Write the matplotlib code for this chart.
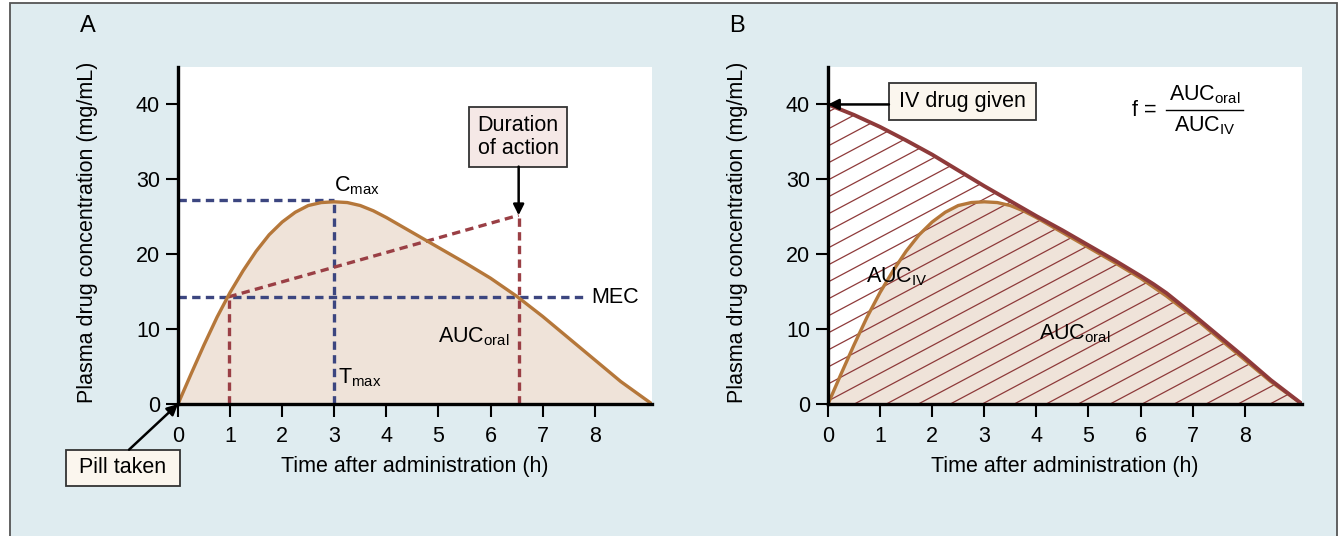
import numpy as np
import matplotlib
matplotlib.use("Agg")
import matplotlib.pyplot as plt
from matplotlib.patches import Rectangle, Polygon
from matplotlib.collections import LineCollection

plt.rcParams['font.family'] = ['Liberation Sans', 'DejaVu Sans']
plt.rcParams['mathtext.fontset'] = 'custom'
plt.rcParams['mathtext.rm'] = 'Liberation Sans'
plt.rcParams['mathtext.it'] = 'Liberation Sans:italic'

# ---------------- data ----------------
t_oral = [0, 0.25, 0.5, 0.75, 1.0, 1.25, 1.5, 1.75, 2.0, 2.25, 2.5, 2.75, 3.0,
          3.25, 3.5, 3.75, 4.0, 4.25, 4.5, 5.0, 5.5, 6.0, 6.5, 7.0, 7.5, 8.0, 8.5, 9.1]
c_oral = [0, 4.0, 7.9, 11.6, 14.9, 17.8, 20.4, 22.6, 24.3, 25.6, 26.5, 26.9, 27.0,
          26.9, 26.5, 25.8, 24.9, 23.9, 22.9, 20.9, 18.9, 16.8, 14.4, 11.7, 8.8, 5.9, 3.0, 0]

t_iv = [0, 0.5, 1.0, 1.5, 2.0, 2.5, 3.0, 3.5, 4.0, 4.5, 5.0, 5.5, 6.0, 6.25, 6.5,
        6.75, 7.0, 7.5, 8.0, 8.5, 9.1]
c_iv = [40.0, 38.6, 37.0, 35.2, 33.3, 31.2, 29.1, 27.1, 25.1, 23.2, 21.2, 19.2,
        17.1, 16.0, 14.8, 13.4, 12.0, 9.1, 6.2, 3.2, 0]

cmax = 27.2
tmax = 3.0
mec = 14.3
t_onset = 0.97
t_offset = 6.54
duration_top = 25.2
iv_dose_conc = 40.0

x_ticks = [0, 1, 2, 3, 4, 5, 6, 7, 8]
y_ticks = [0, 10, 20, 30, 40]
x_label = "Time after administration (h)"
y_label = "Plasma drug concentration (mg/mL)"

# ---------------- styling ----------------
BG = '#dfecf0'
FILL = '#efe3d9'
ORAL = '#b5773a'
IVC = '#8e3a3a'
NAVY = '#3c4680'
DRED = '#9a3f45'
FS = 15.5

fig = plt.figure(figsize=(13.39, 5.36), dpi=100)
fig.patch.set_facecolor('white')
fig.patches.append(Rectangle((10 / 1339, -0.05), 1327 / 1339, 1.05 - 3 / 536,
                             transform=fig.transFigure, facecolor=BG,
                             edgecolor='#555555', linewidth=1.3, zorder=-10))

W, H = 1339, 536
def axpos(x0):
    return [x0 / W, 1 - 404 / H, 474 / W, 337 / H]

axA = fig.add_axes(axpos(178))
axB = fig.add_axes(axpos(828))

for ax in (axA, axB):
    ax.set_facecolor('white')
    ax.set_xlim(0, 9.1)
    ax.set_ylim(0, 45)
    ax.spines['top'].set_visible(False)
    ax.spines['right'].set_visible(False)
    ax.spines['left'].set_linewidth(2.4)
    ax.spines['bottom'].set_linewidth(2.4)
    ax.set_xticks(x_ticks)
    ax.set_yticks(y_ticks)
    ax.tick_params(axis='both', direction='out', length=9, width=1.5,
                   labelsize=FS, colors='black')
    ax.tick_params(axis='x', pad=7)
    ax.tick_params(axis='y', pad=4)
    ax.set_xlabel(x_label, fontsize=FS)
    ax.set_ylabel(y_label, fontsize=FS)
    ax.xaxis.set_label_coords(0.5, -0.155)
    ax.yaxis.set_label_coords(-0.168, 0.51)
    for sp in ax.spines.values():
        sp.set_zorder(6)

arrow_kw = dict(arrowstyle='-|>', color='black', lw=1.8, mutation_scale=16,
                shrinkA=0, shrinkB=0)

def box(ax, x0, y0, x1, y1, fc):
    ax.add_patch(Rectangle((x0, y0), x1 - x0, y1 - y0, facecolor=fc,
                           edgecolor='#333333', lw=1.3, zorder=8, clip_on=False))

# ---------------- Panel A ----------------
axA.fill_between(t_oral, c_oral, 0, color=FILL, lw=0, zorder=1)
axA.plot(t_oral, c_oral, color=ORAL, lw=2.4, zorder=4, solid_joinstyle='round')

dash = dict(lw=2.4, dashes=(2.5, 1.6), zorder=3)
axA.plot([0, tmax], [cmax, cmax], color=NAVY, **dash)
axA.plot([tmax, tmax], [0, cmax], color=NAVY, **dash)
axA.plot([0, 7.85], [mec, mec], color=NAVY, **dash)
axA.plot([t_onset, t_onset], [0, mec], color=DRED, **dash)
axA.plot([t_offset, t_offset], [0, duration_top], color=DRED, **dash)
axA.plot([t_onset, t_offset], [mec, duration_top], color=DRED, **dash)

axA.text(3.0, 27.7, r'$\mathrm{C_{max}}$', fontsize=FS, ha='left', va='bottom', zorder=7)
axA.text(3.07, 2.0, r'$\mathrm{T_{max}}$', fontsize=FS, ha='left', va='bottom', zorder=7)
axA.text(7.93, 14.2, 'MEC', fontsize=FS, ha='left', va='center', zorder=7)
axA.text(5.0, 9.0, r'$\mathrm{AUC_{oral}}$', fontsize=FS, ha='left', va='center', zorder=7)

box(axA, 5.59, 31.7, 7.47, 39.6, '#f5e8e6')
axA.text(6.53, 35.65, 'Duration\nof action', fontsize=FS, ha='center', va='center',
         linespacing=1.1, zorder=9)
axA.annotate('', xy=(t_offset, duration_top), xytext=(t_offset, 31.7),
             arrowprops=arrow_kw, zorder=9)

box(axA, -2.15, -10.9, 0.04, -6.1, '#fbf6ee')
axA.text(-1.055, -8.5, 'Pill taken', fontsize=FS, ha='center', va='center',
         zorder=9, clip_on=False)
axA.annotate('', xy=(0, 0), xytext=(-0.94, -6.1), arrowprops=arrow_kw,
             annotation_clip=False, zorder=9)

# ---------------- Panel B ----------------
axB.fill_between(t_oral, c_oral, 0, color=FILL, lw=0, zorder=1)

# hatch of the IV area (drawn as clipped diagonal lines)
poly_xy = list(zip(t_iv, c_iv)) + [(t_iv[-1], 0), (0, 0)]
clip = Polygon(poly_xy, closed=True, transform=axB.transData, fc='none', ec='none')
axB.add_patch(clip)
sx = 474 / 9.1
sy = 337 / 45.0
slope = np.tan(np.radians(28)) * sx / sy
step = 17.0 / sy
offsets = np.arange(-slope * 9.1, 45 + step, step)
segs = [[(0, b), (9.1, b + slope * 9.1)] for b in offsets]
lc = LineCollection(segs, colors=IVC, linewidths=0.9, zorder=2)
lc.set_clip_path(clip)
axB.add_collection(lc)

axB.plot(t_oral, c_oral, color=ORAL, lw=2.4, zorder=4, solid_joinstyle='round')
axB.plot(t_iv, c_iv, color=IVC, lw=2.8, zorder=5, solid_joinstyle='round')

axB.text(0.72, 17.0, r'$\mathrm{AUC_{IV}}$', fontsize=FS, ha='left', va='center', zorder=7)
axB.text(4.05, 9.4, r'$\mathrm{AUC_{oral}}$', fontsize=FS, ha='left', va='center', zorder=7)

box(axB, 1.17, 37.9, 3.99, 42.8, '#fbf6ee')
axB.text(2.58, 40.35, 'IV drug given', fontsize=FS, ha='center', va='center', zorder=9)
axB.annotate('', xy=(0, iv_dose_conc), xytext=(1.17, iv_dose_conc),
             arrowprops=arrow_kw, zorder=9)

# bioavailability formula
axB.text(6.3, 39.2, 'f =', fontsize=FS, ha='right', va='center')
axB.text(7.23, 39.8, r'$\mathrm{AUC_{oral}}$', fontsize=FS, ha='center', va='bottom')
axB.text(7.23, 38.7, r'$\mathrm{AUC_{IV}}$', fontsize=FS, ha='center', va='top')
axB.plot([6.49, 7.97], [39.3, 39.3], color='black', lw=1.0, clip_on=False)

# panel letters
fig.text(88 / W, 1 - 26 / H, 'A', fontsize=17, ha='center', va='center')
fig.text(737 / W, 1 - 26 / H, 'B', fontsize=17, ha='center', va='center')

fig.savefig('out.png', dpi=100, facecolor=fig.get_facecolor())
